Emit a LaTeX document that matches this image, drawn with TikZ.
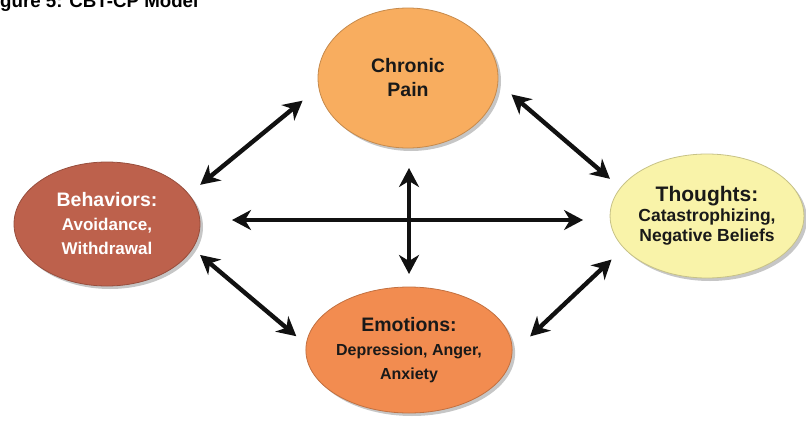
\documentclass[tikz,border=0pt]{standalone}
\usepackage{fontspec}
\setmainfont{Liberation Sans}
\newfontfamily\headfont{Liberation Sans}
\usepackage{xcolor}
\usetikzlibrary{arrows.meta, shapes.geometric, shadows}
\definecolor{painorange}{HTML}{F8AD5F}
\definecolor{behavbrick}{HTML}{BD614C}
\definecolor{thoughtyellow}{HTML}{F9F3A9}
\definecolor{emoorange}{HTML}{F28C50}
\definecolor{arrowblack}{HTML}{111111}
\tikzstyle{blob}=[ellipse, inner sep=0pt, outer sep=0pt, align=center, text=black!90,
  font=\bfseries\fontsize{17}{24}\selectfont,
  drop shadow={shadow xshift=3pt, shadow yshift=-3pt, opacity=0.45}]
\tikzstyle{link}=[line width=4.4pt, draw=arrowblack,
  arrows={Stealth[length=19pt,width=20pt,inset=6pt]-Stealth[length=19pt,width=20pt,inset=6pt]}]
\newcommand{\blobtitle}[1]{{\fontsize{19.5}{24}\selectfont #1}}

\begin{document}
\begin{tikzpicture}[x=1pt, y=-1pt]
\clip (0,0) rectangle (806,434);

% Caption (cut at the top of the picture)
\node[anchor=base west, inner sep=0pt, font=\headfont\bfseries\fontsize{18.7}{20}\selectfont] (caption) at (-16.6,7) {Figure 5: CBT-CP Model};

% Ellipses
\node[blob, fill=painorange, draw=painorange!80!black, line width=0.8pt,
  minimum width=180pt, minimum height=140pt] (pain) at (408,78) {\blobtitle{Chronic}\\\blobtitle{Pain}};
\node[blob, fill=behavbrick, draw=behavbrick!80!black, line width=0.8pt, text=white,
  minimum width=186pt, minimum height=124pt] (behav) at (107,224) {\blobtitle{Behaviors:}\\Avoidance,\\Withdrawal};
\node[blob, fill=thoughtyellow, draw=thoughtyellow!80!black, line width=0.8pt,
  minimum width=180pt, minimum height=124pt,
  font=\bfseries\fontsize{17.5}{20}\selectfont] (thought) at (707,216) {{\fontsize{21}{20}\selectfont Thoughts:}\\Catastrophizing,\\Negative Beliefs};
\node[blob, fill=emoorange, draw=emoorange!80!black, line width=0.8pt,
  minimum width=188pt, minimum height=126pt,
  font=\bfseries\fontsize{16}{24}\selectfont] (emo) at (409,350) {\blobtitle{Emotions:}\\Depression, Anger,\\Anxiety};

% Connectors
\coordinate (hub) at (409,220);
\draw[link, shorten <=32pt, shorten >=27pt] (hub -| behav.east) -- (hub -| thought.west);
\draw[link, shorten <=20pt, shorten >=13pt] (hub |- pain.south) -- (hub |- emo.north);
\draw[link, shorten <=15pt, shorten >=21pt] (behav.20) -- (pain.186);
\draw[link, shorten <=18pt, shorten >=14pt] (pain.-3) -- (thought.162);
\draw[link, shorten <=10pt, shorten >=13pt] (behav.-16) -- (emo.177);
\draw[link, shorten <=17pt, shorten >=25pt] (thought.201) -- (emo.-2);

\end{tikzpicture}
\end{document}
